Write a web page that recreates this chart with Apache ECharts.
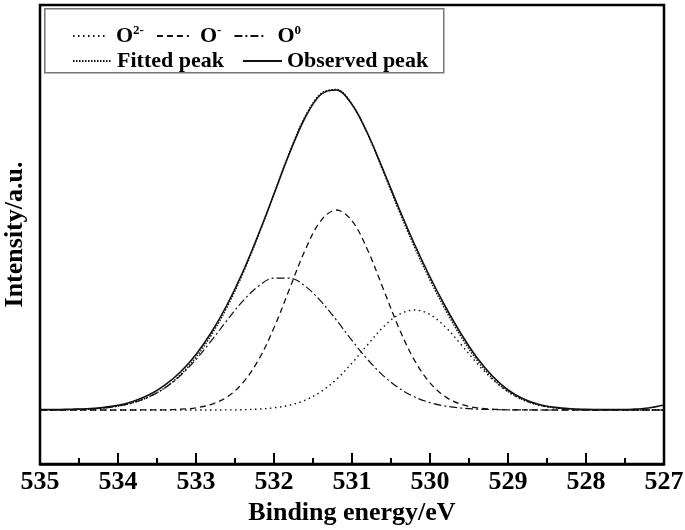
<!DOCTYPE html>
<html><head><meta charset="utf-8">
<script src="https://cdn.jsdelivr.net/npm/echarts@6/dist/echarts.min.js"></script>
<style>html,body{margin:0;padding:0;background:#fff}#c{width:685px;height:530px}</style>
</head><body><div id="c"></div>
<script>
// Binding energy (eV), 0.2 eV steps
const energy = [535.0, 534.8, 534.6, 534.4, 534.2, 534.0, 533.8, 533.6, 533.4, 533.2,
  533.0, 532.8, 532.6, 532.4, 532.2, 532.0, 531.8, 531.6, 531.4, 531.2,
  531.0, 530.8, 530.6, 530.4, 530.2, 530.0, 529.8, 529.6, 529.4, 529.2,
  529.0, 528.8, 528.6, 528.4, 528.2, 528.0, 527.8, 527.6, 527.4, 527.2, 527.0];
// Intensity (arbitrary units, above baseline)
const oxide2 = [0, 0, 0, 0, 0, 0, 0, 0, 0, 0,
  0, 0, 0.1, 0.3, 0.9, 2.2, 4.8, 9.8, 18.2, 30.6,
  46.9, 65.3, 82.8, 95.4, 100, 95.4, 82.8, 65.3, 46.9, 30.6,
  18.2, 9.8, 4.8, 2.2, 0.9, 0.3, 0.1, 0, 0, 0, 0];
const oxide1 = [0, 0, 0, 0, 0, 0, 0, 0.1, 0.2, 0.8,
  2.2, 5.7, 13.1, 27.1, 49.9, 82.2, 121.3, 160.1, 189.2, 200,
  189.2, 160.1, 121.3, 82.2, 49.9, 27.1, 13.1, 5.7, 2.2, 0.8,
  0.2, 0.1, 0, 0, 0, 0, 0, 0, 0, 0, 0];
const oxide0 = [0.1, 0.2, 0.4, 0.9, 1.9, 3.9, 7.4, 13.2, 22.0, 34.4,
  50.5, 69.6, 89.9, 108.9, 123.8, 131.9, 131.9, 123.8, 108.9, 89.9,
  69.6, 50.5, 34.4, 22.0, 13.2, 7.4, 3.9, 1.9, 0.9, 0.4,
  0.2, 0.1, 0, 0, 0, 0, 0, 0, 0, 0, 0];
const fitted = [0.1, 0.2, 0.4, 0.9, 1.9, 3.9, 7.4, 13.3, 22.2, 35.2,
  52.7, 75.3, 103.1, 136.3, 174.6, 216.3, 258.0, 293.7, 316.3, 320.5,
  305.7, 275.9, 238.5, 199.6, 163.1, 129.9, 99.8, 72.9, 50.0, 31.8,
  18.6, 10.0, 4.8, 2.2, 0.9, 0.3, 0.1, 0, 0, 0, 0];
const observed = [0.5, 0.4, 0.8, 1.2, 2.4, 4.6, 8.8, 15.2, 24.8, 38.0,
  55.6, 78.0, 105.5, 138.0, 175.5, 216.0, 257.0, 292.5, 315.5, 320.0,
  305.5, 276.5, 240.0, 202.0, 166.0, 133.0, 103.0, 76.0, 52.5, 34.0,
  20.0, 11.0, 5.5, 2.6, 1.2, 0.6, 0.4, 0.5, 0.8, 2.0, 5.0];
const seriesNames = ['O2-', 'O-', 'O0', 'Fitted peak', 'Observed peak'];
const legendLabels = {
  'O2-': '{b|O}{s|2-}',
  'O-': '{b|O}{s|-}',
  'O0': '{b|O}{s|0}',
  'Fitted peak': '{t|Fitted peak}',
  'Observed peak': '{t|Observed peak}'
};
const xTicks = {min: 527, max: 535, interval: 1};

const FONT = '"Liberation Serif", "Times New Roman", serif';
const INK = '#111';
const pair = arr => energy.map((e, i) => [e, arr[i]]);
const lineSeries = (name, arr, type, width, z) => ({
  name, type: 'line', data: pair(arr), smooth: 0.35, symbol: 'none', z,
  lineStyle: {color: INK, width, type}, itemStyle: {color: INK}
});
const rich = {
  b: {fontFamily: FONT, fontWeight: 'bold', fontSize: 22, lineHeight: 24, color: '#000'},
  s: {fontFamily: FONT, fontWeight: 'bold', fontSize: 13, lineHeight: 11, verticalAlign: 'top', color: '#000'},
  t: {fontFamily: FONT, fontWeight: 'bold', fontSize: 22, lineHeight: 24, color: '#000'}
};
const chart = echarts.init(document.getElementById('c'), null, {renderer: 'canvas'});
chart.setOption({
  backgroundColor: '#fff',
  animation: false,
  grid: {left: 40, right: 21, top: 5, bottom: 66, show: true, borderColor: '#000', borderWidth: 2.5,
    containLabel: false, outerBoundsMode: 'none'},
  graphic: [{type: 'rect', left: 44, top: 8, shape: {width: 399, height: 64},
    style: {fill: 'rgba(0,0,0,0)', stroke: '#777', lineWidth: 1.5}, z: 10}],
  legend: [
    {data: seriesNames.slice(0, 3), left: 67, top: 19, orient: 'horizontal', itemWidth: 32, itemHeight: 14,
      itemGap: 12, selectedMode: false, formatter: n => legendLabels[n],
      itemStyle: {opacity: 0},
      textStyle: {rich, padding: [0, 0, 0, 6]}},
    {data: seriesNames.slice(3), left: 67, top: 45, orient: 'horizontal', itemWidth: 39, itemHeight: 14,
      itemGap: 18, selectedMode: false, formatter: n => legendLabels[n],
      itemStyle: {opacity: 0},
      textStyle: {rich, padding: [0, 0, 0, 0]}}
  ],
  xAxis: {
    type: 'value', min: xTicks.min, max: xTicks.max, interval: xTicks.interval, inverse: true,
    name: 'Binding energy/eV', nameLocation: 'middle', nameGap: 35,
    nameTextStyle: {fontFamily: FONT, fontWeight: 'bold', fontSize: 26, color: '#000'},
    axisLine: {show: true, onZero: false, lineStyle: {color: '#000', width: 2.5}},
    axisTick: {show: true, inside: true, length: 11, lineStyle: {color: '#000', width: 2}},
    minorTick: {show: true, splitNumber: 2, length: 6, lineStyle: {color: '#000', width: 2}},
    axisLabel: {fontFamily: FONT, fontWeight: 'bold', fontSize: 26, color: '#000', margin: 5},
    splitLine: {show: false}
  },
  yAxis: {
    type: 'value', min: -54, max: 405,
    name: 'Intensity/a.u.', nameLocation: 'middle', nameGap: 12,
    nameTextStyle: {fontFamily: FONT, fontWeight: 'bold', fontSize: 26, color: '#000'},
    axisLine: {show: false}, axisTick: {show: false}, axisLabel: {show: false}, splitLine: {show: false}
  },
  series: [
    lineSeries('O2-', oxide2, [1.5, 3.5], 1.4, 2),
    lineSeries('O-', oxide1, [6, 4], 1.3, 2),
    lineSeries('O0', oxide0, [8, 3, 2, 3], 1.2, 2),
    lineSeries('Fitted peak', fitted, [1.5, 1.5], 1.4, 3),
    lineSeries('Observed peak', observed, 'solid', 1.6, 4)
  ]
});
</script></body></html>
